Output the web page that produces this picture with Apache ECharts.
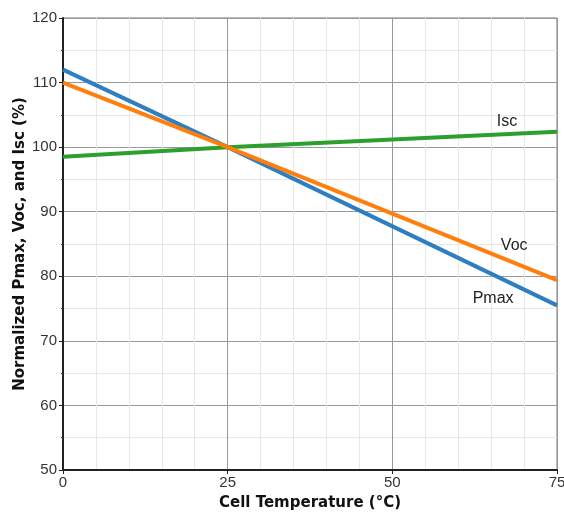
<!DOCTYPE html>
<html>
<head>
<meta charset="utf-8">
<script src="https://cdn.jsdelivr.net/npm/echarts@6/dist/echarts.min.js"></script>
<style>
  html, body { margin: 0; padding: 0; background: #fff; }
  #chart { width: 564px; height: 514px; }
</style>
</head>
<body>
<div id="chart"></div>
<script>
// 温度点 (°C)
const temps = [0, 25, 75];
// 归一化数值 (%)
const pmax = [112, 100, 75.5];
const voc = [110, 100, 79.4];
const isc = [98.5, 100, 102.4];
// 曲线标签位置 [温度, 数值]
const labelPos = {
  Isc: [67.4, 103.9],
  Voc: [68.5, 84.8],
  Pmax: [65.3, 76.6],
};

const pair = (xs, ys) => xs.map((x, i) => [x, ys[i]]);

const makeSeries = (name, data, color) => ({
  name: name,
  type: 'line',
  data: pair(temps, data),
  symbol: 'none',
  lineStyle: { width: 4, color: color },
  itemStyle: { color: color },
  z: name === 'Pmax' ? 3 : 4,
  markPoint: {
    symbol: 'circle',
    symbolSize: 0,
    label: {
      show: true,
      formatter: name,
      color: '#222',
      fontFamily: 'Liberation Sans',
      fontSize: 16,
    },
    data: [{ coord: labelPos[name] }],
  },
});

const chart = echarts.init(document.getElementById('chart'));
chart.setOption({
  animation: false,
  grid: {
    left: 63, right: 7, top: 18, bottom: 44,
    outerBoundsMode: 'none',
    show: true, borderColor: '#777', borderWidth: 1,
  },
  xAxis: {
    type: 'value',
    min: 0, max: 75, interval: 25,
    name: 'Cell Temperature (°C)',
    nameLocation: 'middle',
    nameGap: 26,
    nameMoveOverlap: false,
    nameTextStyle: { fontFamily: 'DejaVu Sans', fontWeight: 'bold', fontSize: 15, color: '#111' },
    axisLine: { show: true, lineStyle: { color: '#222', width: 2 } },
    axisTick: { show: true, length: 4, lineStyle: { color: '#222' } },
    axisLabel: { fontFamily: 'Liberation Sans', fontSize: 15, color: '#333', margin: 5 },
    splitLine: { show: true, lineStyle: { color: '#999', width: 1 } },
    minorTick: { show: false, splitNumber: 5 },
    minorSplitLine: { show: true, lineStyle: { color: '#e8e8e8', width: 1 } },
  },
  yAxis: {
    type: 'value',
    min: 50, max: 120, interval: 10,
    name: 'Normalized Pmax, Voc, and Isc (%)',
    nameLocation: 'middle',
    nameGap: 35,
    nameMoveOverlap: false,
    nameTextStyle: { fontFamily: 'DejaVu Sans', fontWeight: 'bold', fontSize: 15, color: '#111' },
    axisLine: { show: true, lineStyle: { color: '#222', width: 2 } },
    axisTick: { show: true, length: 4, lineStyle: { color: '#222' } },
    axisLabel: { fontFamily: 'Liberation Sans', fontSize: 15, color: '#333', margin: 6 },
    splitLine: { show: true, lineStyle: { color: '#999', width: 1 } },
    minorTick: { show: true, splitNumber: 2, length: 2, lineStyle: { color: '#444' } },
    minorSplitLine: { show: true, lineStyle: { color: '#e8e8e8', width: 1 } },
  },
  series: [
    makeSeries('Isc', isc, '#2ca02c'),
    makeSeries('Pmax', pmax, '#2f7ec1'),
    makeSeries('Voc', voc, '#ff7f0e'),
  ],
});
</script>
</body>
</html>
